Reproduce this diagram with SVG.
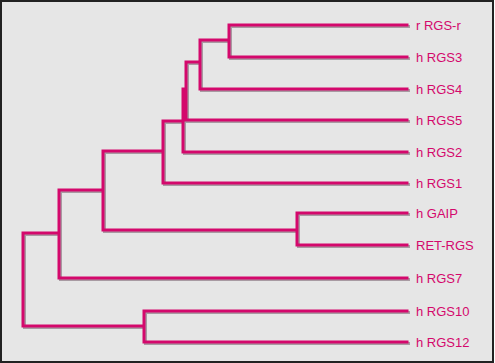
<svg xmlns="http://www.w3.org/2000/svg" width="495" height="363" viewBox="0 0 495 363">
<style>
.bg{fill:#e6e6e6;stroke:#222;stroke-width:2}
.sh{fill:none;stroke:#a89aa2;stroke-width:3;stroke-linejoin:miter;stroke-linecap:square}
.ln{fill:none;stroke:#d4086c;stroke-width:3;stroke-linejoin:miter;stroke-linecap:square}
.lb{font-family:"Liberation Sans",Arial,sans-serif;font-size:13px;fill:#d4086c}
</style>
<defs>
<path id="tree" d="M229,25H407M229,57H407M229,25V57M200,40H229M200,89H407M200,40V89M186,62H200M186,120H407M186,62V120M183,89H186M183,152H407M183,89V152M163,121H183M163,183H407M163,121V183M297,213H407M297,245H407M297,213V245M103,230H297M103,151H163M103,151V230M59,190H103M59,278H407M59,190V278M144,311H407M144,342H407M144,311V342M23,326H144M23,233H59M23,233V326"/>
</defs>
<rect class="bg" x="1" y="1" width="492" height="361"/>
<g id="connectors">
<use href="#tree" class="sh" transform="translate(1.5,1.5)"/>
<use href="#tree" class="ln"/>
</g>
<g id="n1"><text class="lb" x="416" y="30">r RGS-r</text></g>
<g id="n2"><text class="lb" x="416" y="62">h RGS3</text></g>
<g id="n3"><text class="lb" x="416" y="94">h RGS4</text></g>
<g id="n4"><text class="lb" x="416" y="125">h RGS5</text></g>
<g id="n5"><text class="lb" x="416" y="157">h RGS2</text></g>
<g id="n6"><text class="lb" x="416" y="188">h RGS1</text></g>
<g id="n7"><text class="lb" x="416" y="218">h GAIP</text></g>
<g id="n8"><text class="lb" x="416" y="250">RET-RGS</text></g>
<g id="n9"><text class="lb" x="416" y="283">h RGS7</text></g>
<g id="n10"><text class="lb" x="416" y="316">h RGS10</text></g>
<g id="n11"><text class="lb" x="416" y="347">h RGS12</text></g>
</svg>
